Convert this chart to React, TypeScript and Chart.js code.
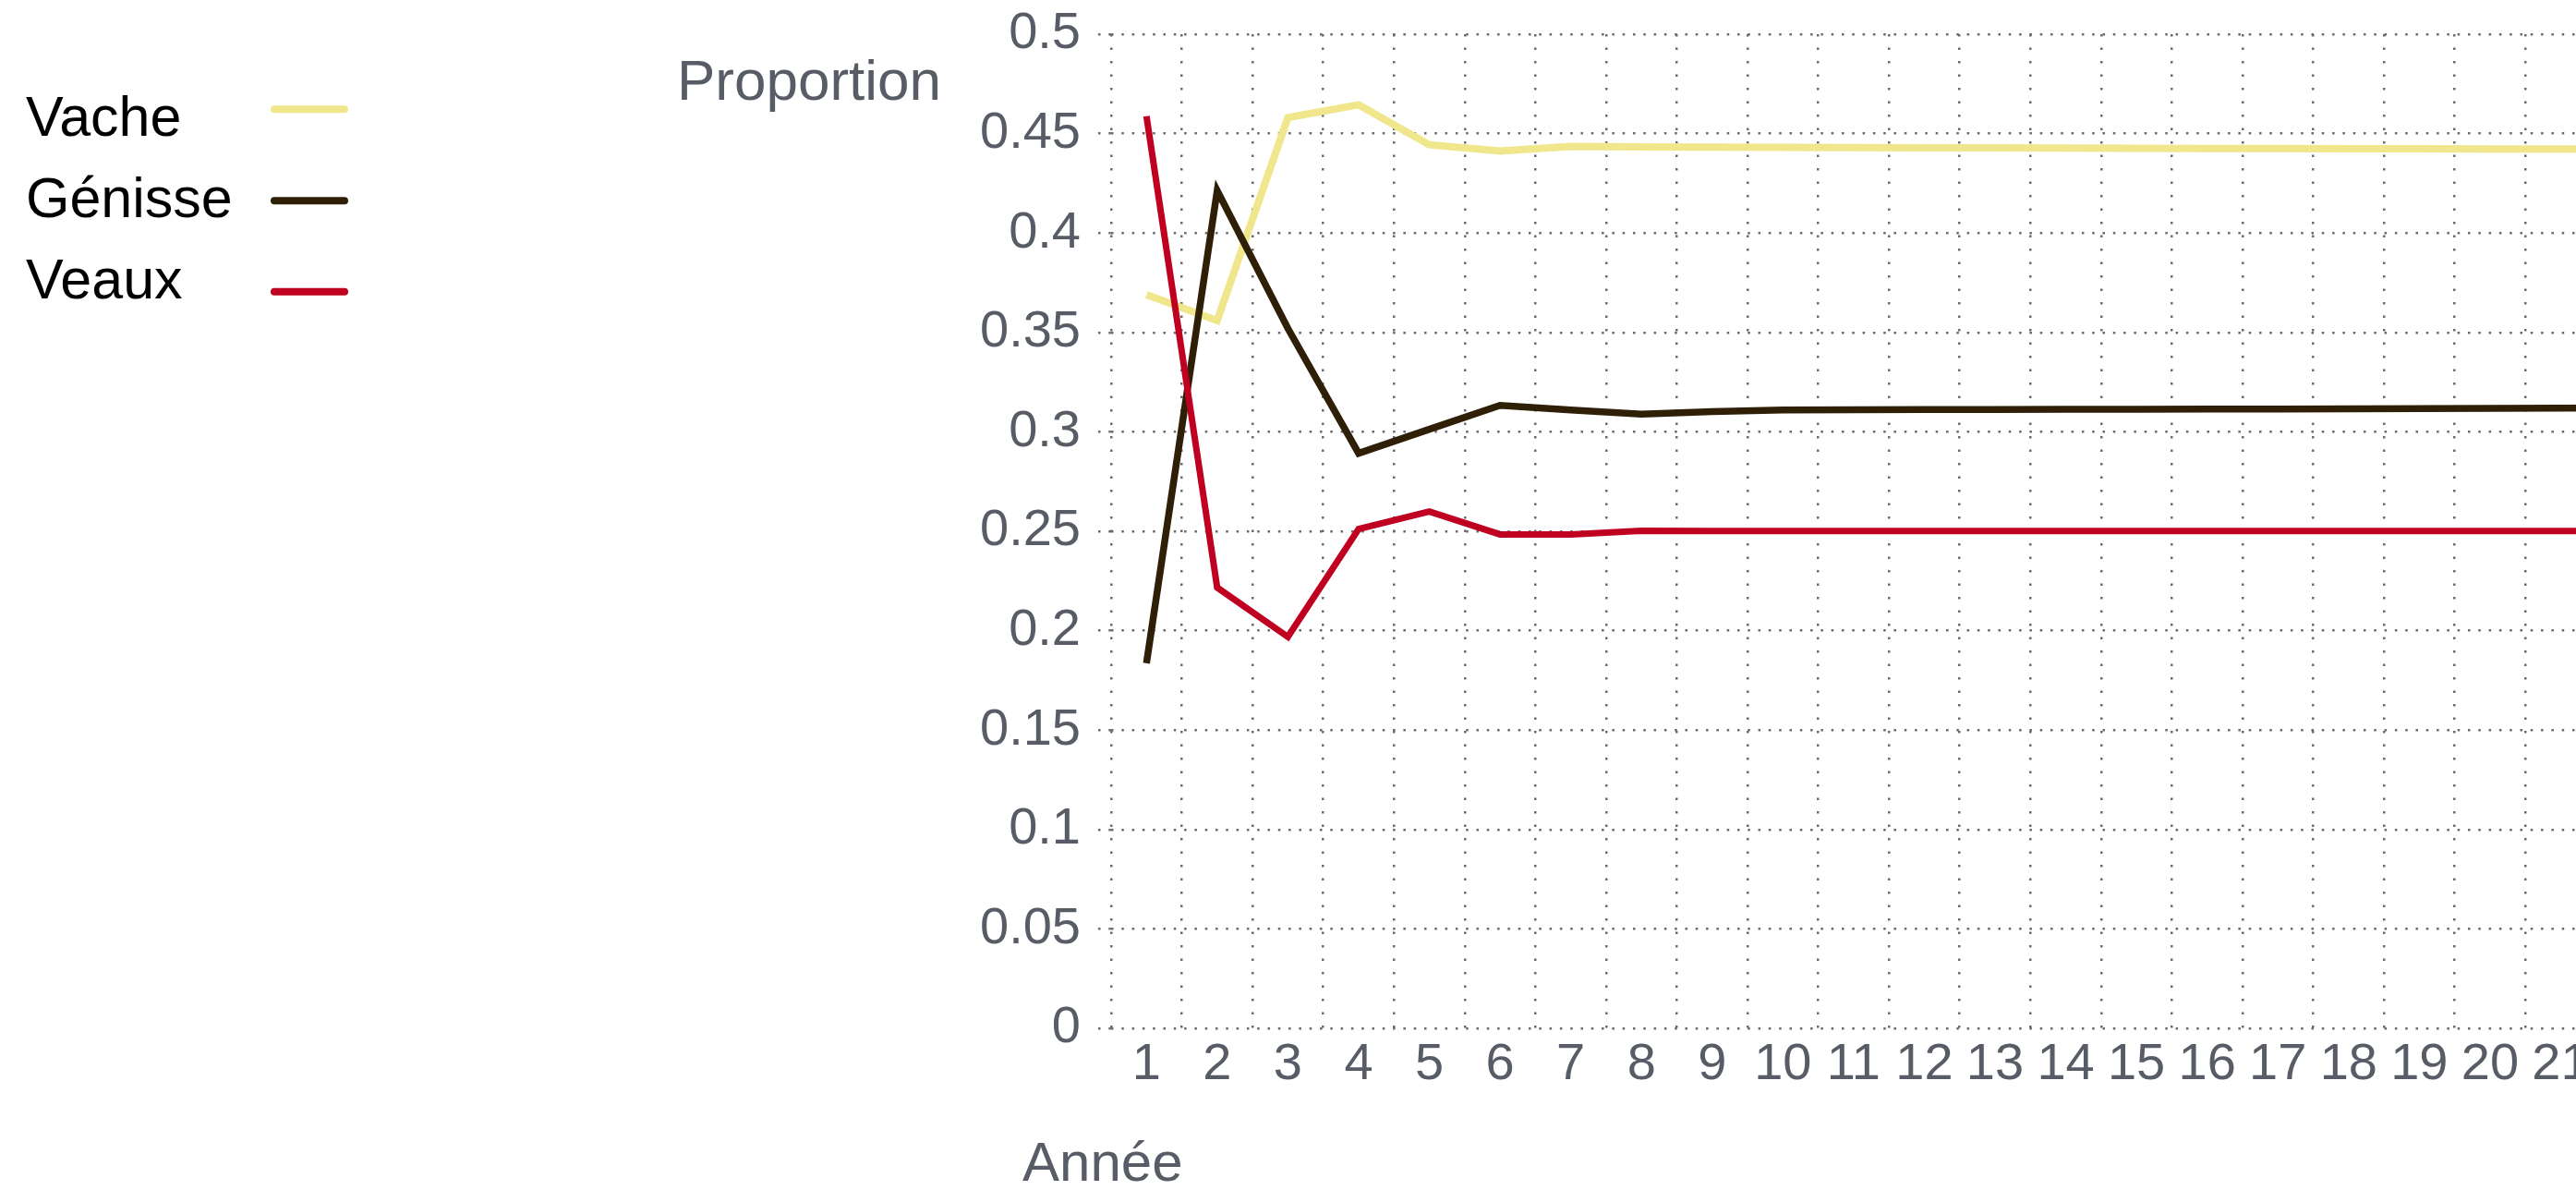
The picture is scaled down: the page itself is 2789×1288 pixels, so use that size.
import React, { useEffect, useRef } from "react";
import { Chart, registerables } from "chart.js";

Chart.register(...registerables);

// ---- data ----
const years: string[] = [
  "1", "2", "3", "4", "5", "6", "7", "8", "9", "10", "11", "12", "13",
  "14", "15", "16", "17", "18", "19", "20", "21", "22", "23", "24", "25",
];
const vache: number[] = [
  0.369, 0.356, 0.458, 0.4645, 0.4444, 0.4412, 0.4435, 0.4433, 0.4432, 0.4431,
  0.443, 0.4429, 0.4428, 0.4427, 0.4426, 0.4425, 0.4425, 0.4424, 0.4424, 0.4423,
  0.4423, 0.4422, 0.4422, 0.4422, 0.4421,
];
const genisse: number[] = [
  0.1836, 0.4213, 0.352, 0.2892, 0.3013, 0.3133, 0.311, 0.3089, 0.3102, 0.311,
  0.3111, 0.3112, 0.3112, 0.3113, 0.3113, 0.3114, 0.3115, 0.3116, 0.3117, 0.3118,
  0.3119, 0.312, 0.312, 0.312, 0.312,
];
const veaux: number[] = [
  0.4588, 0.2217, 0.1969, 0.2511, 0.2599, 0.2484, 0.2484, 0.2502, 0.2501, 0.2501,
  0.2501, 0.2501, 0.2501, 0.2501, 0.2501, 0.2501, 0.2501, 0.2501, 0.2501, 0.2501,
  0.2501, 0.2501, 0.2501, 0.2501, 0.2501,
];
const seriesNames: string[] = ["Vache", "Génisse", "Veaux"];
const seriesColors: string[] = ["#f0e68c", "#2e1f06", "#c00020"];
const yTitle = "Proportion";
const xTitle = "Année";

const CANVAS_W = 3117;
const CANVAS_H = 1288;
const AXIS_COLOR = "#575c66";
const GRID_COLOR = "#6a6a6a";
const FONT = "'Liberation Sans', Arial, sans-serif";

const extrasPlugin = {
  id: "extras",
  afterDraw(chart: any) {
    const ctx = chart.ctx as CanvasRenderingContext2D;
    ctx.save();
    // legend
    const textBase = [146.7, 235, 322.7];
    const lineY = [118.3, 217.3, 315.7];
    chart.data.datasets.forEach((ds: any, i: number) => {
      ctx.font = `61px ${FONT}`;
      ctx.fillStyle = "#000000";
      ctx.textAlign = "left";
      ctx.textBaseline = "alphabetic";
      ctx.fillText(ds.label, 28, textBase[i]);
      ctx.beginPath();
      ctx.lineCap = "round";
      ctx.lineWidth = 8;
      ctx.strokeStyle = ds.borderColor;
      ctx.moveTo(297, lineY[i]);
      ctx.lineTo(373, lineY[i]);
      ctx.stroke();
    });
    // axis titles
    ctx.fillStyle = AXIS_COLOR;
    ctx.textAlign = "left";
    ctx.textBaseline = "alphabetic";
    ctx.font = `62px ${FONT}`;
    ctx.fillText(yTitle, 733, 108.3);
    ctx.font = `60px ${FONT}`;
    ctx.fillText(xTitle, 1107, 1278);
    ctx.restore();
  },
};

export default function App() {
  const ref = useRef<HTMLCanvasElement | null>(null);

  useEffect(() => {
    if (!ref.current) return;
    const values = [vache, genisse, veaux];
    const widths = [8, 7.5, 7];
    const chart = new Chart(ref.current, {
      type: "line",
      data: {
        labels: years,
        datasets: seriesNames.map((name, i) => ({
          label: name,
          data: values[i],
          borderColor: seriesColors[i],
          backgroundColor: seriesColors[i],
          borderWidth: widths[i],
          pointRadius: 0,
          tension: 0,
          borderCapStyle: "butt" as const,
          borderJoinStyle: "miter" as const,
          order: 3 - i,
        })),
      },
      options: {
        animation: false,
        responsive: false,
        devicePixelRatio: 1,
        layout: { padding: { left: 0, top: 37, right: 0, bottom: 0 } },
        plugins: {
          legend: { display: false },
          tooltip: { enabled: false },
          title: { display: false },
        },
        scales: {
          x: {
            type: "category",
            offset: true,
            grid: {
              offset: true,
              drawTicks: false,
              color: GRID_COLOR,
              lineWidth: 2.5,
            },
            border: { display: false, dash: [2.5, 12] },
            ticks: {
              color: AXIS_COLOR,
              font: { family: FONT, size: 56 },
              padding: 6,
              maxRotation: 0,
              autoSkip: false,
            },
            afterFit(scale: any) {
              scale.height = CANVAS_H - 1113;
              scale.paddingLeft = 0;
              scale.paddingRight = 0;
            },
          },
          y: {
            min: 0,
            max: 0.5,
            grid: {
              drawTicks: true,
              tickLength: 14,
              color: GRID_COLOR,
              lineWidth: 2.5,
              tickColor: GRID_COLOR,
              tickWidth: 2.5,
              tickBorderDash: [2.5, 8.8],
            },
            border: { display: false, dash: [2.5, 8.8] },
            ticks: {
              stepSize: 0.05,
              color: AXIS_COLOR,
              font: { family: FONT, size: 56 },
              padding: 19,
              callback: (v: any) => String(Number(Number(v).toFixed(2))),
            },
            afterFit(scale: any) {
              scale.width = 1203;
              scale.paddingTop = 0;
              scale.paddingBottom = 0;
            },
          },
        },
      },
      plugins: [extrasPlugin],
    });
    return () => chart.destroy();
  }, []);

  return (
    <div
      style={{
        position: "fixed",
        left: 0,
        top: 0,
        width: 2789,
        height: CANVAS_H,
        overflow: "hidden",
        background: "#ffffff",
      }}
    >
      <canvas
        ref={ref}
        width={CANVAS_W}
        height={CANVAS_H}
        style={{ display: "block", width: CANVAS_W, height: CANVAS_H }}
      />
    </div>
  );
}
